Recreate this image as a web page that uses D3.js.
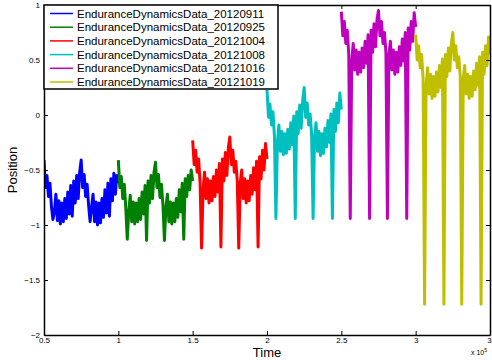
<!DOCTYPE html>
<html>
<head>
<meta charset="utf-8">
<script src="https://d3js.org/d3.v7.min.js"></script>
<style>
  body { margin: 0; background: #fff; }
  text { font-family: "Liberation Sans", Arial, sans-serif; }
</style>
</head>
<body>
<div id="chart"></div>
<script>
// series names and colours
const names = ["EnduranceDynamicsData_20120911", "EnduranceDynamicsData_20120925",
  "EnduranceDynamicsData_20121004", "EnduranceDynamicsData_20121008",
  "EnduranceDynamicsData_20121016", "EnduranceDynamicsData_20121019"];
const colors = ["#0000ff", "#008000", "#ff0000", "#00bfbf", "#bf00bf", "#bfbf00"];
// each recording starts at this time and is sampled every 1000
const starts = [50000, 100000, 150000, 200000, 250000, 300000];
const step = 1000;

const blue = [-0.41,-0.66,-0.55,-0.74,-0.62,-0.83,-0.95,-0.88,-0.72,-0.96,-0.78,-0.99,-0.80,-0.97,-0.76,-0.94,-0.70,-0.90,-0.64,-0.92,
  -0.60,-0.80,-0.55,-0.76,-0.52,-0.41,-0.66,-0.54,-0.74,-0.63,-0.82,-0.97,-0.84,-0.72,-0.97,-0.79,-1.00,-0.80,-0.98,-0.76,
  -0.93,-0.68,-0.89,-0.62,-0.92,-0.58,-0.78,-0.53,-0.72,-0.55,-0.62];
const green = [-0.41,-0.66,-0.56,-0.76,-0.63,-0.84,-1.13,-0.88,-0.73,-0.97,-0.79,-0.99,-0.80,-0.97,-0.76,-0.95,-0.70,-0.90,-0.64,-1.14,
  -0.60,-0.80,-0.55,-0.76,-0.52,-0.43,-0.66,-0.54,-0.75,-0.63,-0.82,-1.14,-0.84,-0.72,-0.97,-0.79,-0.99,-0.80,-0.97,-0.76,
  -0.93,-0.68,-0.88,-0.62,-1.13,-0.58,-0.74,-0.55,-0.68,-0.50,-0.60];
const red = [-0.23,-0.45,-0.32,-0.52,-0.40,-0.62,-1.21,-0.68,-0.52,-0.76,-0.58,-0.80,-0.60,-0.78,-0.56,-0.74,-0.50,-0.70,-0.44,-1.20,
  -0.40,-0.60,-0.34,-0.55,-0.30,-0.20,-0.45,-0.32,-0.52,-0.42,-0.60,-1.21,-0.62,-0.50,-0.76,-0.58,-0.80,-0.60,-0.78,-0.55,
  -0.72,-0.48,-0.68,-0.42,-1.20,-0.38,-0.58,-0.32,-0.50,-0.26,-0.40];
const cyan = [0.23,-0.02,0.10,-0.09,0.03,-0.19,-0.94,-0.25,-0.09,-0.33,-0.15,-0.36,-0.17,-0.35,-0.13,-0.31,-0.07,-0.27,-0.01,-0.94,
  0.03,-0.17,0.09,-0.12,0.13,0.25,-0.02,0.11,-0.09,0.01,-0.17,-0.94,-0.19,-0.07,-0.33,-0.15,-0.37,-0.17,-0.35,-0.12,
  -0.29,-0.05,-0.25,0.01,-0.94,0.05,-0.15,0.11,-0.07,0.20,0.05];
const magenta = [0.94,0.72,0.85,0.65,0.77,0.55,-0.94,0.49,0.65,0.41,0.59,0.37,0.57,0.39,0.61,0.43,0.67,0.47,0.73,-0.94,
  0.77,0.57,0.83,0.62,0.87,0.95,0.72,0.85,0.65,0.75,0.57,-0.94,0.55,0.67,0.41,0.59,0.37,0.57,0.39,0.62,
  0.45,0.69,0.49,0.75,-0.94,0.79,0.59,0.85,0.67,0.93,0.80];
const yellow = [0.73,0.50,0.63,0.43,0.55,0.33,-1.72,0.27,0.43,0.19,0.37,0.15,0.35,0.17,0.39,0.21,0.45,0.25,0.51,-1.72,
  0.55,0.35,0.61,0.40,0.65,0.75,0.50,0.63,0.43,0.53,0.35,-1.72,0.33,0.45,0.19,0.37,0.15,0.35,0.17,0.40,
  0.23,0.47,0.27,0.53,-1.72,0.57,0.37,0.63,0.45,0.71,0.55];
const seriesValues = [blue, green, red, cyan, magenta, yellow];

const xTicks = [50000, 100000, 150000, 200000, 250000, 300000, 350000];
const xTickLabels = ["0.5", "1", "1.5", "2", "2.5", "3", "3."];
const yTicks = [-2, -1.5, -1, -0.5, 0, 0.5, 1];
const yTickLabels = ["\u22122", "\u22121.5", "\u22121", "\u22120.5", "0", "0.5", "1"];

const W = 492, H = 360;
const m = { left: 44, right: 490, top: 5, bottom: 335 };

const svg = d3.select("#chart").append("svg").attr("width", W).attr("height", H);

const x = d3.scaleLinear().domain([50000, 350000]).range([m.left, m.right]);
const y = d3.scaleLinear().domain([-2, 1]).range([m.bottom, m.top]);

svg.append("clipPath").attr("id", "clip")
  .append("rect").attr("x", m.left).attr("y", m.top)
  .attr("width", m.right - m.left).attr("height", m.bottom - m.top);

const line = d3.line().x(d => x(d[0])).y(d => y(d[1]));

const plot = svg.append("g").attr("clip-path", "url(#clip)");
seriesValues.forEach((vals, k) => {
  const pts = vals.map((v, i) => [starts[k] + i * step, v]);
  plot.append("path")
    .attr("d", line(pts))
    .attr("fill", "none")
    .attr("stroke", colors[k])
    .attr("stroke-width", 3)
    .attr("stroke-linejoin", "round");
});

// axes, MATLAB style box with inward ticks
const fmtX = (d, i) => xTickLabels[i];
const fmtY = (d, i) => yTickLabels[i];
const axB = svg.append("g").attr("transform", `translate(0,${m.bottom})`)
  .call(d3.axisBottom(x).tickValues(xTicks).tickFormat(fmtX).tickSizeInner(-4).tickSizeOuter(0).tickPadding(2));
const axT = svg.append("g").attr("transform", `translate(0,${m.top})`)
  .call(d3.axisTop(x).tickValues(xTicks).tickFormat("").tickSizeInner(-4).tickSizeOuter(0));
const axL = svg.append("g").attr("transform", `translate(${m.left},0)`)
  .call(d3.axisLeft(y).tickValues(yTicks).tickFormat(fmtY).tickSizeInner(-4).tickSizeOuter(0).tickPadding(4));
const axR = svg.append("g").attr("transform", `translate(${m.right},0)`)
  .call(d3.axisRight(y).tickValues(yTicks).tickFormat("").tickSizeInner(-4).tickSizeOuter(0));

[axB, axT, axL, axR].forEach(a => {
  a.select(".domain").attr("stroke", "#000").attr("stroke-width", 1.5);
  a.selectAll(".tick line").attr("stroke", "#000");
  a.selectAll("text").attr("font-size", 8).attr("fill", "#000")
    .attr("font-family", "'Liberation Sans', Arial, sans-serif");
});

// axis titles
svg.append("text").attr("x", (m.left + m.right) / 2).attr("y", 357)
  .attr("text-anchor", "middle").attr("font-size", 13).text("Time");
svg.append("text").attr("transform", `translate(17,${(m.top + m.bottom) / 2}) rotate(-90)`)
  .attr("text-anchor", "middle").attr("font-size", 13).text("Position");
const mult = svg.append("text").attr("x", 471).attr("y", 355).attr("font-size", 7);
mult.append("tspan").text("x 10");
mult.append("tspan").attr("dy", -3).attr("font-size", 5).text("5");

// legend
const lg = svg.append("g");
lg.append("rect").attr("x", m.left).attr("y", m.top).attr("width", 234).attr("height", 84)
  .attr("fill", "#fff").attr("stroke", "#000").attr("stroke-width", 1.5);
names.forEach((n, k) => {
  const yy = m.top + 8.5 + k * 13.7;
  lg.append("line").attr("x1", 50).attr("x2", 73).attr("y1", yy).attr("y2", yy)
    .attr("stroke", colors[k]).attr("stroke-width", 1.5);
  lg.append("text").attr("x", 77).attr("y", yy + 4).attr("font-size", 11.5).attr("fill", "#000").text(n);
});
</script>
</body>
</html>
